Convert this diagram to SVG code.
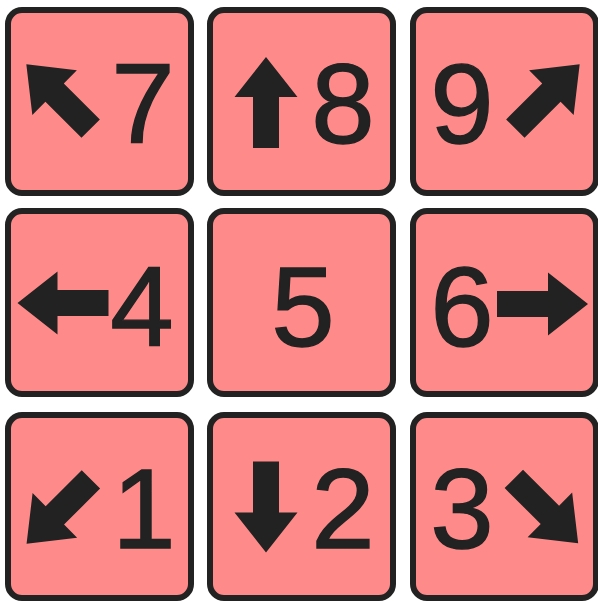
<svg xmlns="http://www.w3.org/2000/svg" width="598" height="601" viewBox="0 0 598 601">
<style>
.tile{fill:#FF8A8A;stroke:#222222;stroke-width:6}
.arr{fill:#222222}
.num{font-family:"Liberation Sans",Arial,sans-serif;font-size:114px;fill:#222222;stroke:#222222;stroke-width:1.4;text-anchor:middle}
</style>
<defs>
<path id="arrow" d="M0,-45.5 L31.5,-5.5 L13,-5.5 L13,45.5 L-13,45.5 L-13,-5.5 L-31.5,-5.5 Z"/>
</defs>
<rect width="598" height="601" fill="#ffffff"/>
<g id="key7">
<rect class="tile" x="8" y="10" width="183" height="183" rx="14"/>
<use href="#arrow" class="arr" transform="translate(58.5,96.5) rotate(-45)"/>
<text class="num" x="143" y="143">7</text>
</g>
<g id="key8">
<rect class="tile" x="210" y="10" width="183" height="183" rx="14"/>
<use href="#arrow" class="arr" transform="translate(266,102.5)"/>
<text class="num" x="343" y="143">8</text>
</g>
<g id="key9">
<rect class="tile" x="413" y="10" width="183" height="183" rx="14"/>
<use href="#arrow" class="arr" transform="translate(547.5,96.5) rotate(45)"/>
<text class="num" x="462" y="143">9</text>
</g>
<g id="key4">
<rect class="tile" x="8" y="211" width="183" height="183" rx="14"/>
<use href="#arrow" class="arr" transform="translate(63,303) rotate(-90)"/>
<text class="num" x="142" y="346">4</text>
</g>
<g id="key5">
<rect class="tile" x="210" y="211" width="183" height="183" rx="14"/>
<text class="num" x="303" y="346">5</text>
</g>
<g id="key6">
<rect class="tile" x="413" y="211" width="183" height="183" rx="14"/>
<use href="#arrow" class="arr" transform="translate(542.5,304) rotate(90)"/>
<text class="num" x="462" y="346">6</text>
</g>
<g id="key1">
<rect class="tile" x="8" y="415" width="183" height="183" rx="14"/>
<use href="#arrow" class="arr" transform="translate(58.75,511.5) rotate(-135)"/>
<text class="num" x="144" y="548">1</text>
</g>
<g id="key2">
<rect class="tile" x="210" y="415" width="183" height="183" rx="14"/>
<use href="#arrow" class="arr" transform="translate(266,507) rotate(180)"/>
<text class="num" x="343" y="548">2</text>
</g>
<g id="key3">
<rect class="tile" x="413" y="415" width="183" height="183" rx="14"/>
<use href="#arrow" class="arr" transform="translate(546,511) rotate(135)"/>
<text class="num" x="462" y="548">3</text>
</g>
</svg>
